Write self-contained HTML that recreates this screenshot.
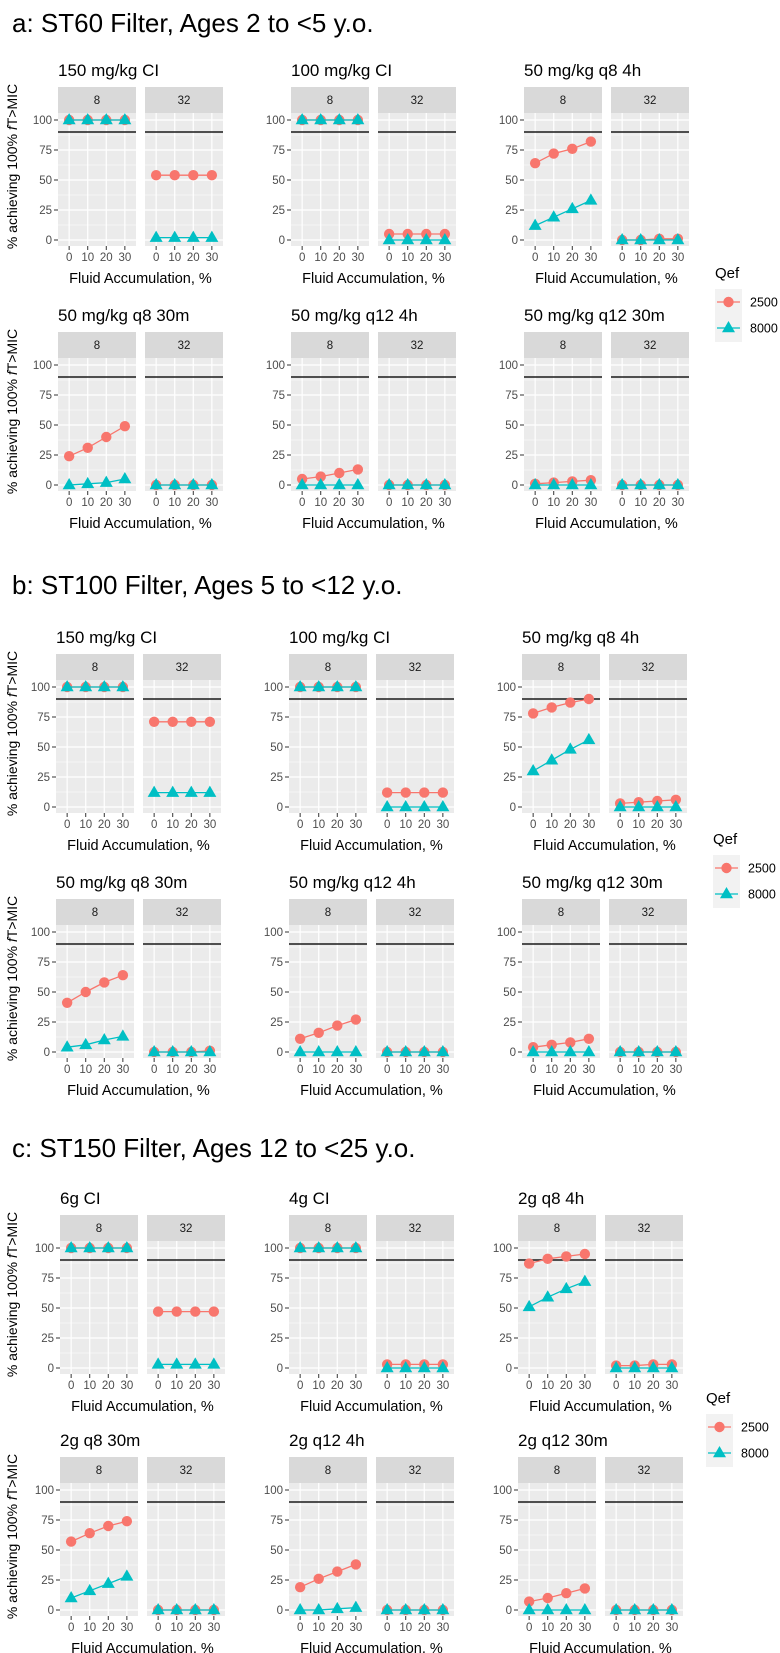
<!DOCTYPE html>
<html><head><meta charset="utf-8">
<style>
html,body{margin:0;padding:0;background:#fff;}
svg{display:block;font-family:"Liberation Sans",Arial,sans-serif;}
</style></head>
<body>
<svg id="chart" width="780" height="1653" viewBox="0 0 780 1653"></svg>
<script>
// ---- data ----
const categories = [0, 10, 20, 30];
const micLevels = ["8", "32"];
const seriesNames = ["2500", "8000"];
const yTicks = [0, 25, 50, 75, 100];
const targetLine = 90;

const sectionTitles = ["a: ST60 Filter, Ages 2 to <5 y.o.", "b: ST100 Filter, Ages 5 to <12 y.o.", "c: ST150 Filter, Ages 12 to <25 y.o."];
const panelTitlesA = ["150 mg/kg CI", "100 mg/kg CI", "50 mg/kg q8 4h", "50 mg/kg q8 30m", "50 mg/kg q12 4h", "50 mg/kg q12 30m"];
const panelTitlesB = ["150 mg/kg CI", "100 mg/kg CI", "50 mg/kg q8 4h", "50 mg/kg q8 30m", "50 mg/kg q12 4h", "50 mg/kg q12 30m"];
const panelTitlesC = ["6g CI", "4g CI", "2g q8 4h", "2g q8 30m", "2g q12 4h", "2g q12 30m"];

// each panel: [MIC8, MIC32] values per series
const a2500 = [
  [[100,100,100,100],[54,54,54,54]],
  [[100,100,100,100],[5,5,5,5]],
  [[64,72,76,82],[0,0,1,1]],
  [[24,31,40,49],[0,0,0,0]],
  [[5,7,10,13],[0,0,0,0]],
  [[1,2,3,4],[0,0,0,0]]
];
const a8000 = [
  [[100,100,100,100],[2,2,2,2]],
  [[100,100,100,100],[0,0,0,0]],
  [[12,19,26,33],[0,0,0,0]],
  [[0,1,2,5],[0,0,0,0]],
  [[0,0,0,0],[0,0,0,0]],
  [[0,0,0,0],[0,0,0,0]]
];
const b2500 = [
  [[100,100,100,100],[71,71,71,71]],
  [[100,100,100,100],[12,12,12,12]],
  [[78,83,87,90],[3,4,5,6]],
  [[41,50,58,64],[0,0,0,1]],
  [[11,16,22,27],[0,0,0,0]],
  [[4,6,8,11],[0,0,0,0]]
];
const b8000 = [
  [[100,100,100,100],[12,12,12,12]],
  [[100,100,100,100],[0,0,0,0]],
  [[30,39,48,56],[0,0,0,0]],
  [[4,6,10,13],[0,0,0,0]],
  [[0,0,0,0],[0,0,0,0]],
  [[0,0,0,0],[0,0,0,0]]
];
const c2500 = [
  [[100,100,100,100],[47,47,47,47]],
  [[100,100,100,100],[3,3,3,3]],
  [[87,91,93,95],[2,2,3,3]],
  [[57,64,70,74],[0,0,0,0]],
  [[19,26,32,38],[0,0,0,0]],
  [[7,10,14,18],[0,0,0,0]]
];
const c8000 = [
  [[100,100,100,100],[3,3,3,3]],
  [[100,100,100,100],[0,0,0,0]],
  [[51,59,66,72],[0,0,0,0]],
  [[10,16,22,28],[0,0,0,0]],
  [[0,0,0,0],[0,1,1,2].map(()=>0)],
  [[0,0,0,0],[0,0,0,0]]
];
c8000[4][0] = [0,0,1,2];

// ---- layout ----
const sections = [
  {title: sectionTitles[0], titles: panelTitlesA, s1: a2500, s2: a8000, hy: 23, px: [58,291,524], rows: [87,332], leg: {x:715, y:272}},
  {title: sectionTitles[1], titles: panelTitlesB, s1: b2500, s2: b8000, hy: 585, px: [56,289,522], rows: [654,899], leg: {x:713, y:838}},
  {title: sectionTitles[2], titles: panelTitlesC, s1: c2500, s2: c8000, hy: 1148, px: [60,289,518], rows: [1215,1457], leg: {x:706, y:1397}}
];
const COL = {"2500": "#F8766D", "8000": "#00BFC4"};
const STRIP_W = 78, GAP = 9, STRIP_H = 26;
const svg = document.getElementById('chart');
const NS = 'http://www.w3.org/2000/svg';
function mk(tag, attrs, parent, text) {
  const e = document.createElementNS(NS, tag);
  for (const k in attrs) e.setAttribute(k, attrs[k]);
  if (text !== undefined) e.textContent = text;
  (parent || svg).appendChild(e);
  return e;
}
function tri(cx, cy, s) {
  const h = s * 0.866;
  return `${cx},${cy - h*0.62} ${cx - s/2},${cy + h*0.38} ${cx + s/2},${cy + h*0.38}`;
}

sections.forEach((sec, si) => {
  const ht = mk('text', {x: 12, y: sec.hy + 9, 'font-size': 26, fill: '#000'}, svg, sec.title);
  
  

  sec.titles.forEach((pt, pi) => {
    const row = Math.floor(pi / 3), col = pi % 3;
    const x0 = sec.px[col], st = sec.rows[row];
    const y100 = st + 33, y0 = st + 153;
    const yScale = v => y0 - (v / 100) * (y0 - y100);
    const top = st + STRIP_H, bottom = y0 + 6;
    const g = mk('g', {});
    
    

    const t = mk('text', {x: x0, y: st - 11, 'font-size': 17, fill: '#000'}, g, pt);
    
    

    // y ticks
    yTicks.forEach(v => {
      const yy = yScale(v);
      mk('line', {x1: x0 - 4, x2: x0, y1: yy, y2: yy, stroke: '#333', 'stroke-width': 1}, g);
      const tl = mk('text', {x: x0 - 6, y: yy + 4, 'font-size': 11.5, fill: '#4d4d4d', 'text-anchor': 'end'}, g, String(v));
      
      
    });

    micLevels.forEach((mic, mi) => {
      const fx = x0 + mi * (STRIP_W + GAP);
      const xScale = i => fx + (i + 0.6) * (STRIP_W / 4.2);
      const sg = mk('rect', {x: fx, y: st, width: STRIP_W, height: STRIP_H, fill: '#d9d9d9'}, g);
      
      
      mk('text', {x: fx + STRIP_W/2, y: st + 17, 'font-size': 11.5, fill: '#1a1a1a', 'text-anchor': 'middle'}, g, mic);
      mk('rect', {x: fx, y: top, width: STRIP_W, height: bottom - top, fill: '#ebebeb'}, g);
      // minor grid
      [12.5, 37.5, 62.5, 87.5].forEach(v => {
        mk('line', {x1: fx, x2: fx + STRIP_W, y1: yScale(v), y2: yScale(v), stroke: '#fff', 'stroke-width': 0.6}, g);
      });
      yTicks.forEach(v => {
        mk('line', {x1: fx, x2: fx + STRIP_W, y1: yScale(v), y2: yScale(v), stroke: '#fff', 'stroke-width': 1.2}, g);
      });
      categories.forEach((c, i) => {
        mk('line', {x1: xScale(i), x2: xScale(i), y1: top, y2: bottom, stroke: '#fff', 'stroke-width': 1.2}, g);
        mk('line', {x1: xScale(i), x2: xScale(i), y1: bottom, y2: bottom + 4, stroke: '#333', 'stroke-width': 1}, g);
        const xl = mk('text', {x: xScale(i), y: bottom + 15, 'font-size': 11.5, fill: '#4d4d4d', 'text-anchor': 'middle'}, g, String(c));
        
        
      });
      // target line
      mk('line', {x1: fx, x2: fx + STRIP_W, y1: yScale(targetLine), y2: yScale(targetLine), stroke: '#1a1a1a', 'stroke-width': 1.6}, g);
      // series
      [sec.s1[pi][mi], sec.s2[pi][mi]].forEach((vals, k) => {
        const color = COL[seriesNames[k]];
        const pts = vals.map((v, i) => xScale(i) + ',' + yScale(v)).join(' ');
        const ln = mk('polyline', {points: pts, fill: 'none', stroke: color, 'stroke-width': 1.3}, g);
        
        
        vals.forEach((v, i) => {
          let m;
          if (k === 0) m = mk('circle', {cx: xScale(i), cy: yScale(v), r: 5.2, fill: color}, g);
          else m = mk('polygon', {points: tri(xScale(i), yScale(v), 13), fill: color}, g);
          
          
        });
      });
    });

    const at = mk('text', {x: x0 + (2*STRIP_W + GAP)/2, y: y0 + 43, 'font-size': 14.5, fill: '#000', 'text-anchor': 'middle'}, g, 'Fluid Accumulation, %');
    
    

    if (col === 0) {
      const cy = (st + bottom) / 2;
      const yt = mk('text', {x: 0, y: 0, 'font-size': 14, fill: '#000', 'text-anchor': 'middle', transform: `translate(17,${cy}) rotate(-90)`}, g);
      
      
      mk('tspan', {}, yt, '% achieving 100% ');
      mk('tspan', {'font-style': 'italic'}, yt, 'f');
      mk('tspan', {}, yt, 'T>MIC');
    }
  });

  // legend
  const L = sec.leg;
  const lg = mk('g', {});
  
  
  mk('text', {x: L.x, y: L.y + 6, 'font-size': 15, fill: '#000'}, lg, 'Qef');
  mk('rect', {x: L.x, y: L.y + 17, width: 27, height: 53, fill: '#f2f2f2'}, lg);
  seriesNames.forEach((s, k) => {
    const cy = L.y + 30 + k * 26;
    const le = mk('g', {}, lg);
    
    
    mk('line', {x1: L.x + 2, x2: L.x + 25, y1: cy, y2: cy, stroke: COL[s], 'stroke-width': 1.3}, le);
    if (k === 0) mk('circle', {cx: L.x + 13.5, cy: cy, r: 5.2, fill: COL[s]}, le);
    else mk('polygon', {points: tri(L.x + 13.5, cy, 13), fill: COL[s]}, le);
    mk('text', {x: L.x + 35, y: cy + 4.5, 'font-size': 12.5, fill: '#000'}, le, s);
  });
});
</script>
</body></html>
